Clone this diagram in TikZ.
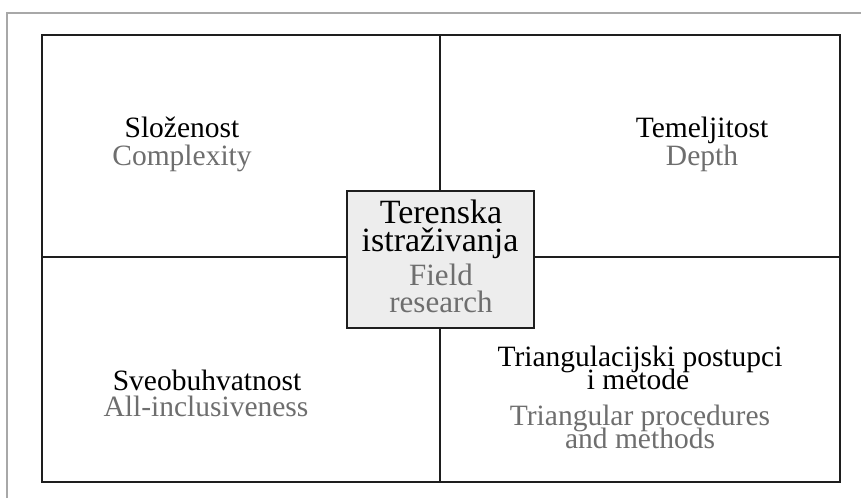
\documentclass[tikz,border=0pt]{standalone}
\usepackage{fontspec}
\setmainfont{Liberation Serif}
\definecolor{engray}{HTML}{6E6E6E}
\definecolor{outergray}{HTML}{A8A8A8}
\definecolor{linedark}{HTML}{1E1E1E}
\definecolor{boxfill}{HTML}{EDEDED}
\begin{document}
\begin{tikzpicture}[x=1pt,y=-1pt,
  frameline/.style={draw=linedark, line width=2pt},
  centerbox/.style={draw=linedark, line width=1.6pt, fill=boxfill,
    minimum width=187pt, minimum height=137pt, inner sep=0pt},
  hr/.style={font=\fontsize{29.5}{28}\selectfont, text=black, anchor=base, inner sep=0pt},
  en/.style={font=\fontsize{29.5}{28}\selectfont, text=engray, anchor=base, inner sep=0pt},
  hrc/.style={font=\fontsize{34}{30}\selectfont, text=black, anchor=base, inner sep=0pt},
  enc/.style={font=\fontsize{31}{30}\selectfont, text=engray, anchor=base, inner sep=0pt}]
\useasboundingbox (0,0) rectangle (861,498);
\fill[white] (0,0) rectangle (861,498);
% outer light frame (only top and left visible)
\coordinate (ofb) at (7,498);
\coordinate (oftl) at (7,13);
\coordinate (ofr) at (861,13);
\draw[draw=outergray, line width=1.3pt] (ofb) -- (oftl) -- (ofr);
% main frame and cross
\coordinate (tl) at (42,35);
\coordinate (br) at (840,482);
\coordinate (vt) at (440,35);
\coordinate (vb) at (440,482);
\coordinate (hl) at (42,257);
\coordinate (hr) at (840,257);
\draw[frameline] (tl) rectangle (br);
\draw[frameline] (vt) -- (vb);
\draw[frameline] (hl) -- (hr);
% center box
\node[centerbox] (box) at (440.5,259.5) {};
\node[hrc] (c1) at (441,223) {Terenska};
\node[hrc] (c2) at (440,251) {istraživanja};
\node[enc] (c3) at (441,285) {Field};
\node[enc] (c4) at (441,312) {research};
% top left
\node[hr] (tl1) at (182,137) {Složenost};
\node[en] (tl2) at (182,165) {Complexity};
% top right
\node[hr] (tr1) at (702,137) {Temeljitost};
\node[en] (tr2) at (702,165) {Depth};
% bottom left
\node[hr] (bl1) at (207,390) {Sveobuhvatnost};
\node[en] (bl2) at (206,416) {All-inclusiveness};
% bottom right
\node[hr] (br1) at (640,366) {Triangulacijski postupci};
\node[hr] (br2) at (638,389) {i metode};
\node[en] (br3) at (640,425) {Triangular procedures};
\node[en] (br4) at (640,448) {and methods};
\end{tikzpicture}
\end{document}
